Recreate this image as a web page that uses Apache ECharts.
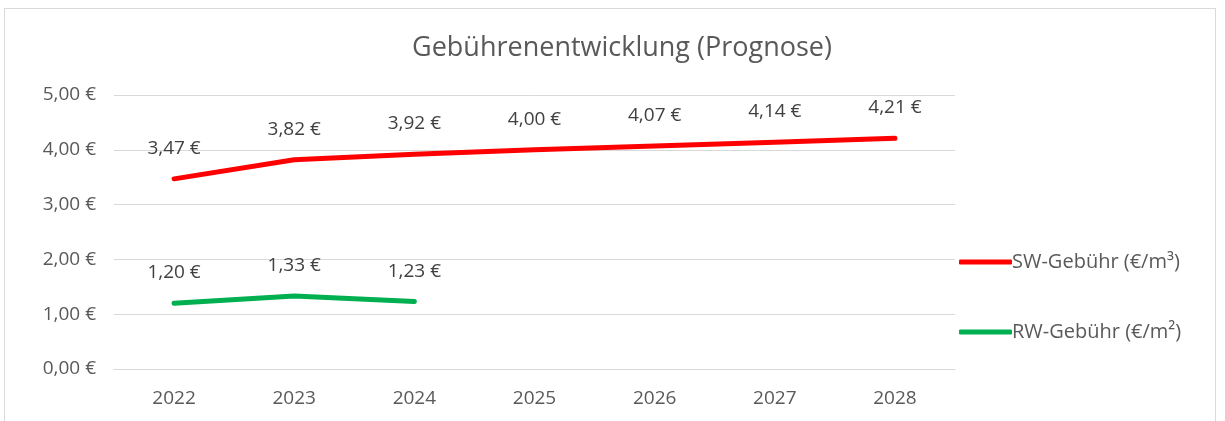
<!DOCTYPE html>
<html>
<head>
<meta charset="utf-8">
<script src="https://cdn.jsdelivr.net/npm/echarts@6/dist/echarts.min.js"></script>
<style>
  html, body { margin: 0; padding: 0; background: #fff; }
  #frame { position: absolute; left: 4px; top: 8px; width: 1212px; height: 420px; border: 1px solid #d9d9d9; box-sizing: border-box; }
  #chart { position: absolute; left: 0; top: 0; width: 1225px; height: 421px; }
</style>
</head>
<body>
<div id="frame"></div>
<div id="chart"></div>
<script>
// Jahre und Gebühren
const years = ['2022', '2023', '2024', '2025', '2026', '2027', '2028'];
const swFee = [3.47, 3.82, 3.92, 4.00, 4.07, 4.14, 4.21];
const rwFee = [1.20, 1.33, 1.23, null, null, null, null];
const seriesNames = ['SW-Gebühr (€/m³)', 'RW-Gebühr (€/m²)'];

const euro = v => v.toFixed(2).replace('.', ',') + ' €';
const font = '"Open Sans", sans-serif';

const chart = echarts.init(document.getElementById('chart'));

const lineSeries = (name, data, color) => ({
  name: name,
  type: 'line',
  data: data,
  symbol: 'circle',
  symbolSize: 0,
  showSymbol: true,
  lineStyle: { color: color, width: 5, cap: 'round', join: 'round' },
  itemStyle: { color: color },
  label: {
    show: true,
    position: 'top',
    distance: 21,
    color: '#404040',
    fontSize: 19,
    fontFamily: font,
    formatter: p => euro(p.value)
  }
});

const option = {
  animation: false,
  textStyle: { fontFamily: font },
  title: {
    text: 'Gebührenentwicklung (Prognose)',
    left: 617,
    textAlign: 'center',
    top: 30,
    textStyle: { color: '#595959', fontSize: 27, fontWeight: 'normal', fontFamily: font }
  },
  legend: {
    orient: 'vertical',
    left: 954,
    top: 247,
    itemGap: 50,
    itemWidth: 53,
    itemHeight: 5,
    data: seriesNames.map(n => ({ name: n, icon: 'roundRect' })),
    textStyle: { color: '#595959', fontSize: 20, padding: [0, 0, 0, -5] }
  },
  grid: {
    left: 114,
    right: 270,
    top: 95,
    bottom: 52
  },
  xAxis: {
    type: 'category',
    data: years,
    boundaryGap: true,
    axisLine: { show: true, lineStyle: { color: '#d9d9d9' } },
    axisTick: { show: false },
    axisLabel: { color: '#595959', fontSize: 19, margin: 20 }
  },
  yAxis: {
    type: 'value',
    min: 0,
    max: 5,
    interval: 1,
    axisLine: { show: false },
    axisTick: { show: false },
    splitLine: { lineStyle: { color: '#d9d9d9' } },
    axisLabel: { color: '#595959', fontSize: 19, margin: 18, formatter: v => euro(v) }
  },
  series: [
    lineSeries(seriesNames[0], swFee, '#ff0000'),
    lineSeries(seriesNames[1], rwFee, '#00b050')
  ]
};

chart.setOption(option);
</script>
</body>
</html>
